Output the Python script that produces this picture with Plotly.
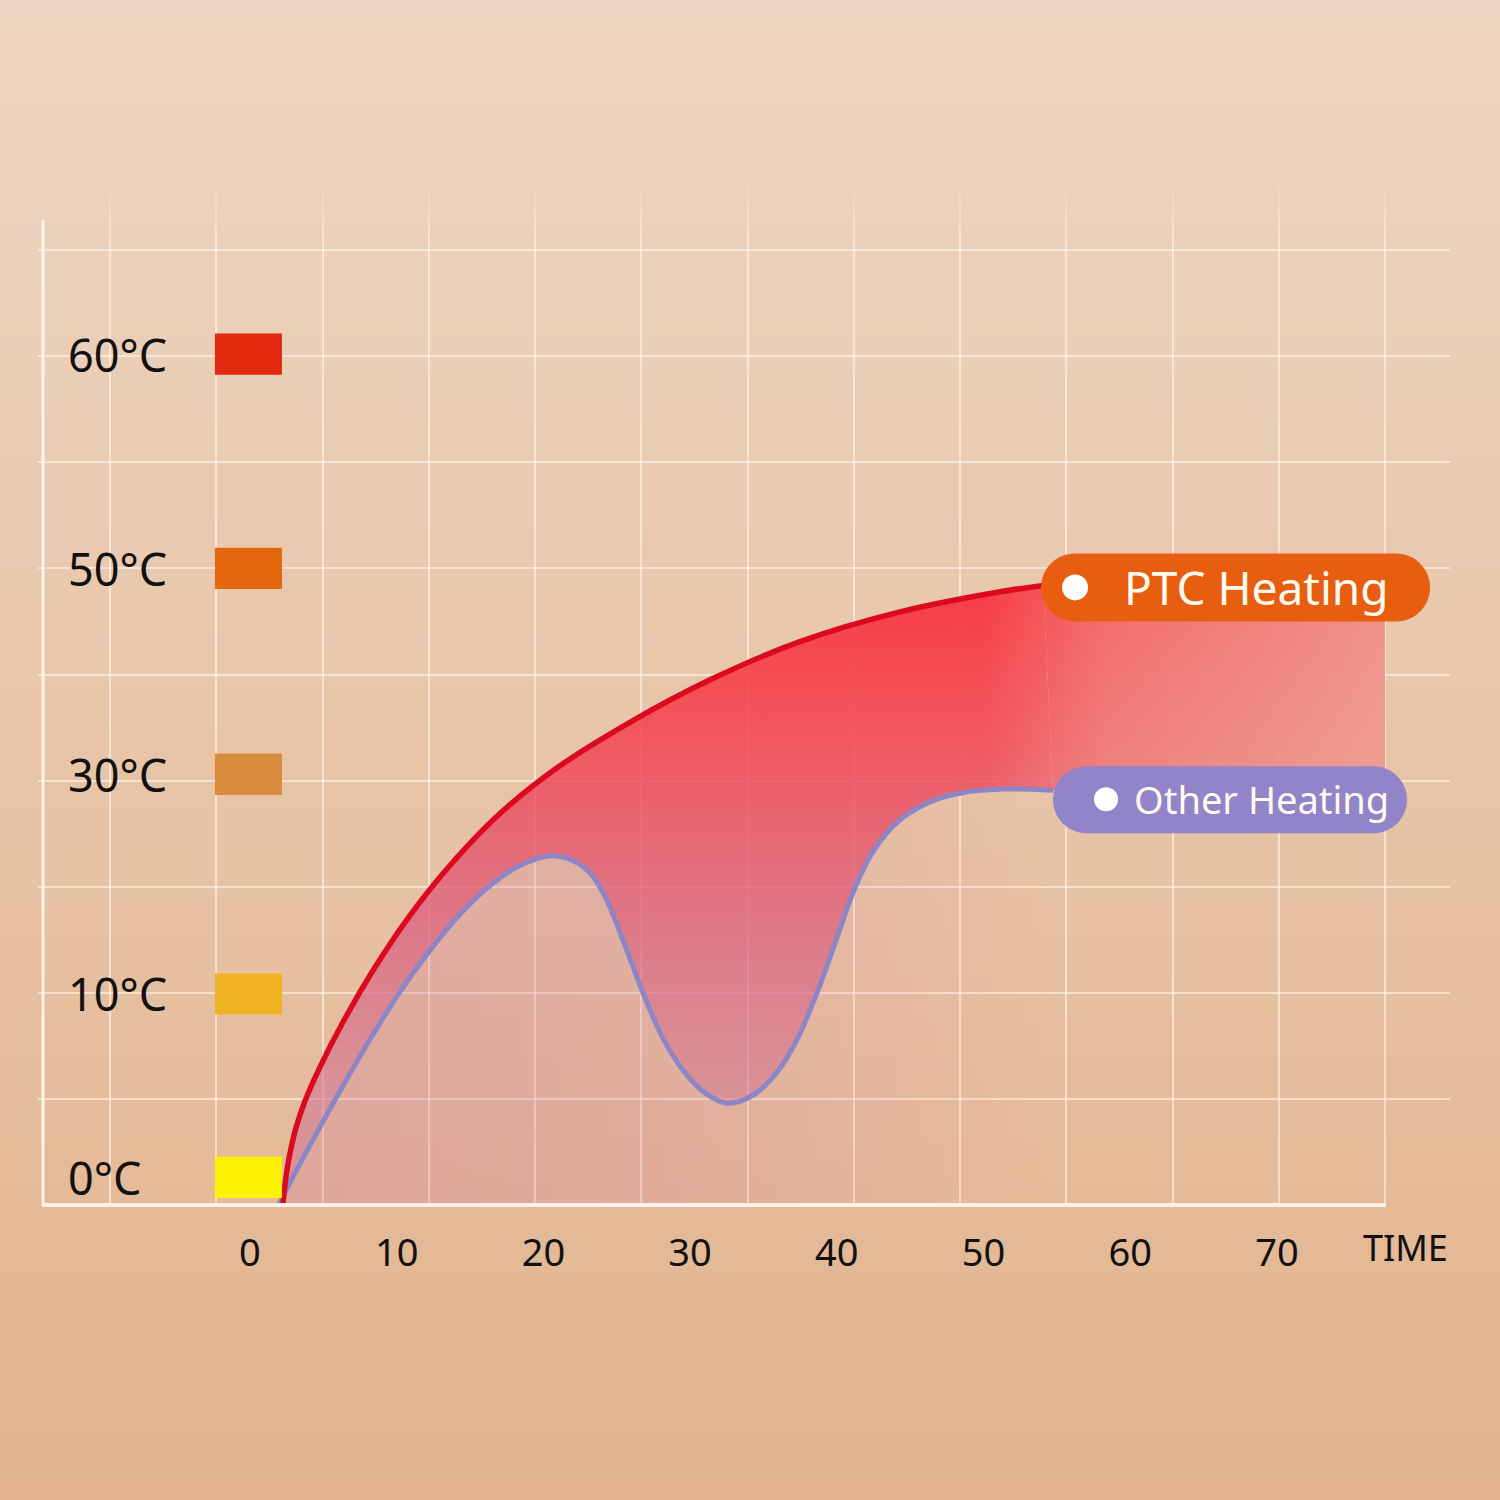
import base64
import struct
import zlib
import plotly.graph_objects as go

# ---------------- data ----------------
time_ticks = [0, 10, 20, 30, 40, 50, 60, 70]
time_labels = [str(t) for t in time_ticks]

temp_labels = ["0°C", "10°C", "30°C", "50°C", "60°C"]
temp_levels = [0.26, 1.99, 4.06, 6.0, 8.02]
temp_colors = ["#fff200", "#f0b323", "#d98c3c", "#e5670d", "#e32a10"]

ptc_time = [2.25, 2.45, 2.73, 3.14, 3.75, 4.77, 6.48, 8.52, 10.91, 13.63,
            17.04, 21.13, 25.90, 31.36, 37.49, 44.31, 51.12, 54.06]
ptc_level = [0.01, 0.26, 0.49, 0.73, 0.98, 1.30, 1.76, 2.24, 2.73, 3.20,
             3.69, 4.14, 4.55, 4.95, 5.31, 5.59, 5.78, 5.84]

other_time = [1.98, 3.41, 5.79, 8.18, 10.22, 12.27, 14.31, 16.36, 18.40, 20.45,
              21.95, 23.18, 24.20, 25.36, 26.79, 28.15, 29.52, 30.88, 32.52, 34.22,
              35.92, 37.29, 38.65, 40.01, 41.24, 42.60, 44.31, 46.35, 48.74, 51.47,
              54.74]
other_level = [0.01, 0.39, 0.99, 1.56, 2.01, 2.40, 2.74, 3.01, 3.20, 3.29,
               3.25, 3.13, 2.91, 2.52, 2.00, 1.57, 1.27, 1.07, 0.96, 1.03,
               1.25, 1.56, 2.00, 2.52, 2.99, 3.36, 3.63, 3.80, 3.89, 3.92,
               3.91]

series_names = ["PTC Heating", "Other Heating"]

# ---------------- styling helpers ----------------
W = H = 1500
FONT = "Noto Sans"
X_RANGE = [-14.45, 81.80]
Y_RANGE = [0, 9.661]
X_DOMAIN = [38 / W, 1450 / W]
Y_DOMAIN = [1 - 1205 / H, 1 - 180 / H]
AXIS_END = 77.37
FADE_FROM = 44


def gradient_png(stops, h=256):
    rows = b""
    for i in range(h):
        t = i / (h - 1)
        for j in range(len(stops) - 1):
            p0, c0 = stops[j]
            p1, c1 = stops[j + 1]
            if p0 <= t <= p1:
                f = (t - p0) / (p1 - p0) if p1 > p0 else 0
                c = [round(c0[k] + (c1[k] - c0[k]) * f) for k in range(3)]
                break
        rows += b"\x00" + bytes(c)

    def chunk(tag, data):
        return (struct.pack(">I", len(data)) + tag + data
                + struct.pack(">I", zlib.crc32(tag + data) & 0xffffffff))

    png = b"\x89PNG\r\n\x1a\n"
    png += chunk(b"IHDR", struct.pack(">IIBBBBB", 1, h, 8, 2, 0, 0, 0))
    png += chunk(b"IDAT", zlib.compress(rows, 9))
    png += chunk(b"IEND", b"")
    return "data:image/png;base64," + base64.b64encode(png).decode()


def pill_path(x0, x1, y0, y1):
    r = (y1 - y0) / 2
    yc = (y0 + y1) / 2
    k = 0.5523 * r
    return (f"M{x0 + r},{y1} L{x1 - r},{y1} "
            f"C{x1 - r + k},{y1} {x1},{yc + k} {x1},{yc} "
            f"C{x1},{yc - k} {x1 - r + k},{y0} {x1 - r},{y0} "
            f"L{x0 + r},{y0} "
            f"C{x0 + r - k},{y0} {x0},{yc - k} {x0},{yc} "
            f"C{x0},{yc + k} {x0 + r - k},{y1} {x0 + r},{y1} Z")


RED_GRADIENT = dict(type="vertical", start=0.9, stop=5.9,
                    colorscale=[[0, "rgba(208,118,150,0.58)"],
                                [0.35, "rgba(220,98,128,0.78)"],
                                [0.7, "rgba(243,72,84,0.88)"],
                                [1, "rgba(248,50,62,0.94)"]])

fig = go.Figure()

# pink glow under the "other" curve, fading out to the right
fig.add_trace(go.Scatter(
    x=other_time, y=other_level, mode="lines",
    line=dict(width=0, shape="spline"), fill="tozeroy",
    fillgradient=dict(type="horizontal", start=other_time[0], stop=other_time[-1],
                      colorscale=[[0, "rgba(210,125,158,0.34)"], [0.45, "rgba(212,128,158,0.26)"],
                                  [0.8, "rgba(218,140,155,0.12)"], [1, "rgba(225,150,150,0)"]]),
    hoverinfo="skip", showlegend=False))

# pink extension to the right of the curves (same gradient as the main fill)
ext_x = [ptc_time[-1], AXIS_END, AXIS_END, other_time[-1]]
ext_y = [ptc_level[-1], ptc_level[-1], other_level[-1], other_level[-1]]
fig.add_trace(go.Scatter(
    x=ext_x, y=ext_y, mode="lines", line=dict(width=0), fill="toself",
    fillgradient=RED_GRADIENT, hoverinfo="skip", showlegend=False))

# base for the fill between curves
fig.add_trace(go.Scatter(
    x=other_time, y=other_level, mode="lines",
    line=dict(width=0, shape="spline"),
    hoverinfo="skip", showlegend=False))

# red gradient between curves
fig.add_trace(go.Scatter(
    x=ptc_time, y=ptc_level, mode="lines",
    line=dict(width=0, shape="spline"), fill="tonexty",
    fillgradient=RED_GRADIENT, hoverinfo="skip", showlegend=False))

# lighten the right end of the fill towards the right
top_pts = [(t, v) for t, v in zip(ptc_time, ptc_level) if t >= FADE_FROM]
bot_pts = [(t, v) for t, v in zip(other_time, other_level) if t >= FADE_FROM][::-1]
light_x = [p[0] for p in top_pts] + [AXIS_END, AXIS_END] + [p[0] for p in bot_pts]
light_y = [p[1] for p in top_pts] + [ptc_level[-1], other_level[-1]] + [p[1] for p in bot_pts]
fig.add_trace(go.Scatter(
    x=light_x, y=light_y, mode="lines", line=dict(width=0), fill="toself",
    fillgradient=dict(type="horizontal", start=50, stop=AXIS_END,
                      colorscale=[[0, "rgba(236,200,178,0)"], [0.3, "rgba(236,200,178,0.33)"],
                                  [1, "rgba(236,200,178,0.6)"]]),
    hoverinfo="skip", showlegend=False))

# fade the grid out at the top
fig.add_trace(go.Scatter(
    x=[X_RANGE[0], X_RANGE[1], X_RANGE[1], X_RANGE[0]], y=[9.0, 9.0, Y_RANGE[1], Y_RANGE[1]],
    mode="lines", line=dict(width=0), fill="toself",
    fillgradient=dict(type="vertical", start=9.0, stop=Y_RANGE[1],
                      colorscale=[[0, "rgba(235,208,186,0)"], [1, "rgba(236,210,188,1)"]]),
    hoverinfo="skip", showlegend=False))

# curves
fig.add_trace(go.Scatter(
    x=other_time, y=other_level, mode="lines", name=series_names[1],
    line=dict(color="#8c86c6", width=5, shape="spline"),
    showlegend=False))
fig.add_trace(go.Scatter(
    x=ptc_time, y=ptc_level, mode="lines", name=series_names[0],
    line=dict(color="#dc0a1e", width=5.5, shape="spline"),
    showlegend=False))

# x tick labels on an overlaying axis (grid on main axis)
fig.add_trace(go.Scatter(x=[time_ticks[0]], y=[None], xaxis="x2", yaxis="y",
                         showlegend=False, hoverinfo="skip"))

shapes = []
# temperature swatches
for lvl, col in zip(temp_levels, temp_colors):
    shapes.append(dict(type="rect", xref="x", yref="y", x0=-2.39, x1=2.18,
                       y0=lvl - 0.195, y1=lvl + 0.195, fillcolor=col,
                       line=dict(width=0), layer="above"))

# axis lines
shapes.append(dict(type="line", xref="paper", yref="paper",
                   x0=43 / W, x1=43 / W, y0=1 - 220 / H, y1=1 - 1206 / H,
                   line=dict(color="#fdf4ec", width=3)))
shapes.append(dict(type="line", xref="paper", yref="paper",
                   x0=42 / W, x1=1386 / W, y0=1 - 1205 / H, y1=1 - 1205 / H,
                   line=dict(color="#fbf1e6", width=4)))

# series labels (pills)
pill_specs = [
    (ptc_time[-1], ptc_level[-1], (-2, 387, -36, 32), (32, -2, 13), "#e85e10", 46, -2),
    (other_time[-1], other_level[-1], (0, 354, -43, 24), (53, -9, 12), "#9184c8", 38, -9),
]
annotations = []
for (ax, ay, (px0, px1, py0, py1), (dx, dy, dr), col, fs, ys), name in zip(pill_specs, series_names):
    shapes.append(dict(type="path", xref="x", yref="y", xsizemode="pixel", ysizemode="pixel",
                       xanchor=ax, yanchor=ay, path=pill_path(px0, px1, py0, py1),
                       fillcolor=col, line=dict(width=0), layer="above"))
    shapes.append(dict(type="circle", xref="x", yref="y", xsizemode="pixel", ysizemode="pixel",
                       xanchor=ax, yanchor=ay, x0=dx - dr, x1=dx + dr, y0=dy - dr, y1=dy + dr,
                       fillcolor="#ffffff", line=dict(width=0), layer="above"))
    annotations.append(dict(x=ax, y=ay, xref="x", yref="y", text=name, showarrow=False,
                            xanchor="left", yanchor="middle", xshift=79, yshift=ys,
                            font=dict(family=FONT, size=fs, color="#fffaf0")))

# temperature labels
for lvl, lab in zip(temp_levels, temp_labels):
    annotations.append(dict(x=66 / W, y=lvl, xref="paper", yref="y", text=lab,
                            showarrow=False, xanchor="left", yanchor="middle",
                            font=dict(family=FONT, size=45, color="#111111")))

annotations.append(dict(x=1405 / W, y=1 - 1247 / H, xref="paper", yref="paper", text="TIME",
                        showarrow=False, xanchor="center", yanchor="middle",
                        font=dict(family=FONT, size=36, color="#111111")))

bg = gradient_png([(0, (237, 214, 195)), (0.5, (232, 197, 168)), (1, (226, 179, 142))])

fig.update_layout(
    width=W, height=H, margin=dict(l=0, r=0, t=0, b=0), autosize=False,
    paper_bgcolor="#e8c5a8", plot_bgcolor="rgba(0,0,0,0)",
    showlegend=False,
    images=[dict(source=bg, xref="paper", yref="paper", x=0, y=1, sizex=1, sizey=1,
                 sizing="stretch", layer="below", xanchor="left", yanchor="top")],
    xaxis=dict(domain=X_DOMAIN, range=X_RANGE, showgrid=True, tickmode="linear",
               tick0=-9.543, dtick=7.243, gridcolor="rgba(255,246,236,0.62)", gridwidth=2,
               showticklabels=False, ticks="", zeroline=False, showline=False, fixedrange=True),
    xaxis2=dict(overlaying="x", anchor="y", side="bottom", range=X_RANGE,
                tickmode="array", tickvals=time_ticks, ticktext=time_labels,
                ticks="outside", ticklen=14, tickcolor="rgba(0,0,0,0)",
                tickfont=dict(family=FONT, size=38, color="#111111"),
                showgrid=False, zeroline=False, showline=False, fixedrange=True),
    yaxis=dict(domain=Y_DOMAIN, range=Y_RANGE, showgrid=True, tickmode="linear",
               tick0=0, dtick=1, gridcolor="rgba(255,246,236,0.62)", gridwidth=2,
               showticklabels=False, ticks="", zeroline=False, showline=False, fixedrange=True),
    shapes=shapes,
    annotations=annotations,
)

fig.write_html("out.html", config={"displayModeBar": False},
               post_script="document.body.style.margin='0';document.body.style.overflow='hidden';")
